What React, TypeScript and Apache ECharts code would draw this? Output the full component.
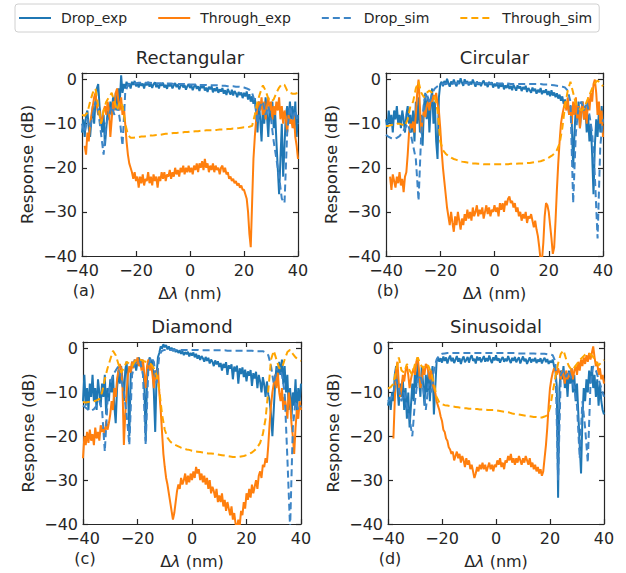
import React, { useEffect, useRef } from 'react';
import * as echarts from 'echarts';

// wavelength grids (nm)
const WL_EXP = Array.from({ length: 161 }, (_, i) => -40 + i * 0.5);
const WL_SIM = Array.from({ length: 81 }, (_, i) => -40 + i);

const SERIES_NAMES = ['Drop_exp', 'Through_exp', 'Drop_sim', 'Through_sim'];
const TITLES = ['Rectangular', 'Circular', 'Diamond', 'Sinusoidal'];
const LETTERS = ['(a)', '(b)', '(c)', '(d)'];
const X_MIN = -40, X_MAX = 40, X_STEP = 20;
const Y_MIN = -40, Y_MAX = 1.5, Y_STEP = 10;

// ---------- (a) Rectangular ----------
const A_DROP_EXP = [
  -12, -9, -13, -8, -7, -11, -13, -9, -6, -10,
  -5, -2, -1, -6, -9, -12, -8, -15, -11, -7,
  -9, -5, -8, -4, -6, -3, -7, -2, -5, 1,
  -3, -1, -2, -0.5, -1.5, -0.8, -2, -0.5, -1.2, -0.3,
  -1.5, -0.8, -1.8, -0.6, -1.4, -0.9, -2, -0.7, -1.3, -0.5,
  -1.6, -0.9, -1.9, -1, -0.6, -1.7, -1.1, -2, -0.8, -1.4,
  -0.7, -1.8, -1.2, -2.1, -0.9, -1.5, -1, -2, -1.3, -0.8,
  -1.7, -1.1, -2.2, -1.4, -0.9, -1.8, -1.2, -2.3, -1.5, -1,
  -1.9, -1.3, -2.4, -1.6, -1.1, -2.1, -1.5, -2.6, -1.4, -1.9,
  -1.2, -2.5, -1.8, -2.8, -1.6, -2.2, -1.5, -2.9, -2, -2.6,
  -1.7, -3, -2.2, -2.7, -1.9, -3.2, -2.4, -3.5, -2.1, -2.8,
  -3.4, -2.3, -3.6, -2.6, -3.1, -4, -2.8, -3.5, -2.9, -4.2,
  -3, -3.8, -2.7, -4.5, -3.3, -5, -3.8, -5.5, -4.2, -7,
  -12, -5, -9, -14, -6, -10, -4, -8, -13, -6,
  -9, -5, -11, -7, -14, -20, -26, -18, -10, -22,
  -15, -8, -6, -10, -5, -9, -6, -11, -5, -13,
  -8,
];
const A_THR_EXP = [
  null, null, -15, -17, -12, -14, -10, -8, -6, -4,
  -3, -6, -8, -7, -10, -9, -7, -6, -8, -5,
  -7, -13, -9, -5, -7, -3, -2, -5, -7, -4,
  -8, -6, -10, -14, -17, -19, -20, -21, -22.5, -21,
  -23, -22, -24.5, -22, -23.5, -21.5, -24, -22.5, -23, -21,
  -23.5, -22, -24, -21.5, -23, -22, -24.5, -22, -23, -21,
  -22.5, -21, -23, -21.5, -22, -20.5, -22.5, -21, -22, -20,
  -21.5, -20.5, -22, -20, -21, -19.5, -21.5, -20, -21, -19.5,
  -21, -20, -21.5, -19.5, -20.5, -19, -21, -19, -20, -18.5,
  -20.5, -18, -20, -19, -21, -19.5, -20.5, -19, -21, -19.5,
  -20.5, -20, -21.5, -20, -19.5, -21, -20, -21.5, -21, -22.5,
  -22, -23, -22.5, -23.5, -23, -24, -23.5, -24.5, -24, -25,
  -25, -26, -27, -30, -35, -38, -28, -18, -13, -9,
  -6, -5, -7, -4, -8, -5, -9, -6, -4, -7,
  -5, -9, -6, -8, -5, -7, -4, -9, -6, -10,
  -7, -9, -12, -8, -10, -9, -11, -8, -13, -15,
  -18,
];
const A_DROP_SIM = [
  -10, -12, -9, -11, -8, -5, -7, -12, -17, -10,
  -8, -6, -8, -5, -9, -15, -3, -1.2, -0.9, -0.8,
  -0.8, -0.7, -0.7, -0.7, -0.7, -0.7, -0.8, -0.8, -0.8, -0.8,
  -0.9, -0.9, -0.9, -0.9, -1, -1, -1, -1, -1, -1.1,
  -1.1, -1.1, -1.1, -1.2, -1.2, -1.2, -1.2, -1.3, -1.3, -1.3,
  -1.3, -1.4, -1.4, -1.4, -1.5, -1.5, -1.5, -1.6, -1.6, -1.7,
  -1.8, -2, -2.3, -3, -5, -10, -6, -5, -8, -6,
  -9, -14, -18, -22, -27, -28, -12, -6, -9, -7,
  -10,
];
const A_THR_SIM = [
  -8, -8.2, -7.5, -5, -3, -2, -6, -10, -7, -5,
  -4, -3, -5, -7, -5, -6, -10, -12.5, -13.2, -13.2,
  -13.1, -13, -12.9, -12.9, -12.8, -12.7, -12.7, -12.6, -12.5, -12.5,
  -12.4, -12.3, -12.3, -12.2, -12.1, -12.1, -12, -12, -11.9, -11.9,
  -11.8, -11.8, -11.7, -11.7, -11.6, -11.6, -11.5, -11.5, -11.5, -11.4,
  -11.4, -11.3, -11.3, -11.3, -11.2, -11.2, -11.1, -11.1, -11, -10.9,
  -10.8, -10.8, -10.7, -10.5, -8, -5, -3, -1.3, -2.5, -4.3,
  -5, -4.5, -3, -1.8, -1, -1.2, -2.5, -3, -3.2, -3.2,
  -3,
];

// ---------- (b) Circular ----------
const B_DROP_EXP = [
  -9, -11, -7, -10, -8, -12, -7, -9, -6, -10,
  -8, -11, -7, -9, -12, -8, -6, -10, -8, -12,
  -7, -14, -5, -10, -4, -12, -8, -15, -6, -3,
  -9, -4, -12, -6, -2, -10, -5, -14, -18, -4,
  -1, -0.5, -1.5, -0.3, -1.2, 0.2, -0.8, -1.6, -0.4, -1.1,
  0, -0.9, -1.5, -0.2, -1, 0.3, -0.7, -1.4, 0.1, -0.9,
  -0.3, -1.3, -0.5, -1.1, 0, -0.8, -1.6, -0.4, -1.2, -0.6,
  -1.5, -0.7, -0.2, -1.3, -0.8, -1.7, -0.5, -1.2, -0.6, -1.8,
  -0.9, -1.5, -0.7, -2, -1, -1.6, -0.8, -2.2, -1.3, -1.9,
  -1, -2.1, -1.4, -2.4, -1.2, -1.8, -2.5, -1.3, -2, -1.5,
  -2.6, -1.7, -2.2, -1.4, -2.8, -1.9, -2.4, -3, -1.8, -2.6,
  -2.1, -3.2, -2.3, -2.9, -1.9, -3.3, -2.5, -3, -2.2, -3.5,
  -2.6, -3.8, -2.4, -3.6, -2.9, -4, -3.1, -4.3, -3.4, -4.8,
  -3.8, -5.5, -4.5, -6.5, -5, -8, -6, -10, -20, -12,
  -6, -9, -5, -11, -7, -5, -9, -6, -12, -8,
  -14, -10, -17, -26, -15, -9, -13, -7, -12, -6,
  -10,
];
const B_THR_EXP = [
  null, null, null, -22, -25, -21.5, -23, -24.5, -22, -23.5,
  -21, -24, -22.5, -25.5, -22, -21, -17, -12, -10, -11,
  -9.5, -12, -8, -3, 0, -6, -12, -9, -7, -8.5,
  -6, -5, -7, -4.5, -5, -3.5, -4.5, -3, -5.5, -7,
  -11, -16, -20, -23, -26, -29, -31, -33, -30, -32.5,
  -34.5, -31, -33, -30, -32, -34, -31.5, -33, -30.5, -32,
  -29.5, -31.5, -30, -32, -29, -31, -30, -28.5, -31, -29.5,
  -30.5, -29, -31.5, -30, -28.5, -30.5, -29, -31, -29.5, -30,
  -28.5, -30, -29, -31, -28, -29.5, -28, -30, -27.5, -28.5,
  -27, -26.5, -28, -27.5, -29, -28, -30, -29, -31, -30,
  -32, -30.5, -31.5, -30, -32.5, -31, -31.5, -30.5, -32, -33.5,
  -32, -34, -35.5, -38, -41, -41, -37, -31, -28, -28.5,
  -30, -33, -36, -39.5, -38, -32, -25, -19, -14, -10,
  -8, -6.5, -5, -7, -4, -8, -6, -10, -5, -8,
  -4, -9, -6, -11, -7, -5, -9, -6, -10, -4,
  -7, -3, -5, -1, 0, -3, -8, -5, -10, -7,
  -13,
];
const B_DROP_SIM = [
  -12.5, -13, -13.3, -13.5, -13.2, -12.8, -12, -11, -10, -12,
  -15, -18, -27.5, -12, -5, -3, -5.5, -3, -2, -1.5,
  -1.1, -1, -0.9, -0.9, -0.8, -0.8, -0.8, -0.8, -0.8, -0.8,
  -0.8, -0.8, -0.8, -0.8, -0.8, -0.8, -0.8, -0.8, -0.9, -0.9,
  -0.9, -0.9, -0.9, -0.9, -0.9, -0.9, -1, -1, -1, -1,
  -1, -1, -1, -1, -1, -1, -1, -1, -1.1, -1.1,
  -1.1, -1.2, -1.3, -1.4, -1.5, -1.6, -1.8, -2.5, -5, -28,
  -12, -6, -5, -7, -5, -8, -12, -22, -36, -15,
  -9,
];
const B_THR_SIM = [
  -10.5, -10.5, -10.3, -10.2, -10, -10, -10.2, -10.5, -9, -6,
  -5, -2, -0.5, -3, -4, -3, -2.5, -3, -4, -7,
  -14, -16, -16.8, -17.3, -17.7, -18, -18.2, -18.4, -18.6, -18.7,
  -18.8, -18.9, -19, -19, -19.1, -19.1, -19.2, -19.2, -19.2, -19.2,
  -19.2, -19.2, -19.2, -19.2, -19.2, -19.2, -19.1, -19.1, -19.1, -19,
  -19, -19, -18.9, -18.9, -18.8, -18.7, -18.6, -18.5, -18.3, -18,
  -17.7, -17.3, -16.8, -16, -14.5, -11, -6, -2.5, -0.5, -3,
  -5.5, -6.5, -7, -6.5, -5, -3.5, -2, -0.8, -0.2, -0.8,
  -1.5,
];

// ---------- (c) Diamond ----------
const C_DROP_EXP = [
  -12, -6, -13, -9, -14, -8, -11, -6, -12, -9,
  -14, -7, -10, -13, -8, -11, -6, -15, -9, -12,
  -7, -10, -6, -13, -17, -9, -5, -8, -4, -7,
  -12, -5, -3, -9, -20, -6, -3, -4, -2.5, -5,
  -3, -2, -4, -2.5, -3.5, -8, -21, -7, -3, -2,
  -4, -2.5, -10, -19, -6, -2, -1, 0.5, 0, 1,
  0.3, 0.8, -0.2, 0.5, -0.4, 0.2, -0.6, 0, -0.8, -0.3,
  -1, -0.4, -1.2, -0.6, -1.5, -0.8, -1.3, -0.7, -1.8, -1,
  -1.6, -0.9, -2, -1.2, -2.3, -1.5, -2.6, -1.7, -2.2, -3,
  -1.9, -2.8, -2.1, -3.4, -2.5, -3, -4, -2.7, -3.6, -2.9,
  -4.2, -3.3, -5, -3.5, -4.4, -3.1, -6, -3.8, -4.6, -3.6,
  -7, -4.1, -5.2, -3.9, -8, -4.5, -5.8, -4.3, -6.5, -4.8,
  -7.5, -5.2, -6.2, -4.9, -8.5, -5.6, -6.8, -5.3, -9, -6,
  -7.5, -10, -6.5, -8.2, -11, -7.5, -10.5, -12, -15, -20,
  -14, -8, -4, -7, -3, -6, -2.5, -8, -4, -10,
  -6, -14, -9, -16, -10, -13, -7, -15, -9, -12,
  -8,
];
const C_THR_EXP = [
  -25, -20, -22, -19, -21.5, -18.5, -21, -19.5, -22, -18,
  -20.5, -19, -21, -17.5, -19, -18, -20, -16.5, -18.5, -17,
  -15, -12, -14, -9, -11, -7, -5, -3.5, -4.5, -9,
  -22, -15, -10, -6, -4, -5.5, -3, -4.5, -2.5, -3.5,
  -2, -4, -3, -5, -2.5, -6, -9, -4, -2.5, -5,
  -3.5, -6, -9, -5, -7, -4.5, -10, -14, -19, -24,
  -27, -29.5, -31, -33, -35, -37, -39, -37.5, -35, -32.5,
  -31, -32, -29.5, -31, -30, -28.5, -31, -29, -30.5, -28.5,
  -30, -28, -29.5, -27, -28.5, -27.5, -30, -28.5, -30.5, -29,
  -31, -29.5, -32, -30, -33, -31.5, -32.5, -34, -32, -35,
  -33.5, -35, -33, -36, -34.5, -37, -35, -36.5, -38, -36,
  -39, -37.5, -40, -41, -39, -40.5, -37, -38, -35, -36.5,
  -33, -34.5, -32, -34, -31, -33, -31.5, -30, -32, -29,
  -28, -29.5, -26.5, -27, -25, -26, -22, -17, -13, -10,
  -8, -6, -9, -5.5, -10, -12, -9, -14, -11, -13,
  -16, -10, -12, -17, -20, -24, -18, -14, -16, -12,
  -14,
];
const C_DROP_SIM = [
  -13, -13.5, -14, -14.2, -13.8, -13, -12, -14, -23.5, -12,
  -8, -6, -5, -4, -7, -10, -15, -22, -6, -3.5,
  -2.5, -3, -6, -22, -4, -2, -3, -8, -1.5, -0.5,
  -0.3, -0.3, -0.3, -0.3, -0.3, -0.3, -0.3, -0.3, -0.3, -0.3,
  -0.3, -0.3, -0.3, -0.4, -0.4, -0.4, -0.4, -0.4, -0.4, -0.4,
  -0.4, -0.4, -0.4, -0.5, -0.5, -0.5, -0.5, -0.5, -0.5, -0.5,
  -0.5, -0.5, -0.5, -0.6, -0.6, -0.6, -0.6, -0.9, -1.5, -4,
  -8, -5, -4, -6, -10, -25, -41, -18, -12, -14,
  -13,
];
const C_THR_SIM = [
  -12.2, -12.3, -12.2, -12, -12, -11.8, -11.5, -10, -7, -4.5,
  -2.5, -0.5, -1.5, -3.5, -5.5, -4.5, -3, -3.5, -4, -3,
  -2.5, -2.5, -2.8, -3, -3.2, -3.6, -4.5, -6, -9.5, -15,
  -18.5, -20.3, -21.2, -21.7, -22, -22.3, -22.6, -22.8, -23, -23.1,
  -23.3, -23.4, -23.5, -23.6, -23.7, -23.8, -23.9, -23.9, -24, -24.1,
  -24.2, -24.3, -24.4, -24.5, -24.6, -24.7, -24.7, -24.7, -24.6, -24.5,
  -24.3, -24, -23.7, -23.2, -22.5, -21.5, -19.5, -16, -9.5, -2.5,
  -0.5, -2.5, -4.5, -4.5, -2.5, -0.8, -0.3, -1.2, -2, -2.5,
  -2.8,
];

// ---------- (d) Sinusoidal ----------
const D_DROP_EXP = [
  -13, -11, -14, -10, -12, -6, -4, -9, -13, -8,
  -11, -7, -14, -9, -16, -10, -18, -13, -8, -12,
  -5, -9, -3, -7, -11, -4, -8, -13, -6, -10,
  -5, -12, -7, -4, -15, -9, -3, -2, -3, -2.2,
  -3.2, -1.8, -2.8, -2, -3.4, -2.3, -1.6, -2.9, -2.1, -3.3,
  -2.5, -1.7, -3, -2.2, -3.5, -2.4, -1.8, -3.1, -2.6, -1.9,
  -3.2, -2.1, -1.5, -2.8, -2.3, -3.4, -1.8, -2.7, -2, -3.1,
  -2.4, -1.7, -3, -2.2, -2.9, -1.6, -2.6, -3.3, -2, -2.7,
  -1.5, -2.8, -2.2, -3.2, -2.4, -1.9, -3, -2.3, -2.9, -1.7,
  -2.6, -3.3, -2.1, -2.8, -1.9, -3.1, -2.5, -2, -3.4, -2.6,
  -1.8, -2.9, -2.3, -3.5, -2.7, -2, -3.2, -2.4, -2.9, -2.1,
  -3.3, -2.5, -3, -2.2, -3.4, -2.6, -2.1, -3.1, -2.4, -3.5,
  -2.8, -3.2, -2.5, -4, -5, -8.5, -34, -9, -5, -7,
  -4, -9, -6, -11, -5, -8, -4.5, -10, -6, -12,
  -8, -15, -22, -28.5, -16, -9, -12, -7, -10, -5,
  -8, -4, -9, -6, -11, -7, -13, -8, -12, -14,
  -15,
];
const D_THR_EXP = [
  null, null, null, null, -20.5, -12, -5, -3, -8, -11,
  -9, -6, -7.5, -5, -4, -6, -9, -7, -5.5, -4.5,
  -6, -3, -2, -5, -9, -7, -4.5, -6, -3.5, -4,
  -5.5, -7, -5, -8, -9, -10, -12, -13, -14, -15.5,
  -16.5, -18.5, -19, -20.5, -21, -22.5, -23, -24, -23.5, -25.5,
  -24.5, -23.5, -25, -24, -26, -24.5, -25.5, -27, -25, -26.5,
  -25.5, -27.5, -26.5, -28, -29.5, -28.5, -27, -28, -26.5, -27.5,
  -26, -27.5, -26.5, -28, -27, -26, -27.5, -26.5, -28, -26.5,
  -27, -25.5, -26.5, -25, -27, -26, -27.5, -25.5, -26, -24.5,
  -25.5, -24, -26, -25, -26.5, -25, -26, -24.5, -25.5, -26.5,
  -25, -26, -24.5, -25.5, -26.5, -25, -27, -26, -27.5, -26.5,
  -28, -27, -28.5, -27.5, -29, -28, -25, -22, -18, -13,
  -9, -7, -5.5, -4.5, -5, -6, -4.5, -5.5, -7, -5,
  -6, -8, -5, -7, -5.5, -6.5, -4.5, -7, -5, -4,
  -6, -3, -5, -2.5, -4, -2, -3.5, -1.5, -3, -1,
  -2.5, -1, 0.5, -2, -4, -3, -6, -4.5, -7, -6,
  -8,
];
const D_DROP_SIM = [
  -12, -11.5, -10, -7, -9, -12, -10, -13, -16, -20,
  -12, -7, -6, -9, -14, -8, -10, -5, -2.5, -1.5,
  -1.2, -1.1, -1, -1, -1, -1, -1, -1, -1, -1,
  -1, -1, -1, -1, -1, -1, -1, -1, -1, -1,
  -1, -1, -1, -1, -1, -1, -1, -1, -1.1, -1.1,
  -1.1, -1.1, -1.1, -1.1, -1.1, -1.2, -1.2, -1.2, -1.2, -1.3,
  -1.3, -1.5, -3, -30, -6, -5, -6.5, -5, -7, -9,
  -13, -25, -12, -18, -26, -8, -4, -5, -7, -9,
  -11,
];
const D_THR_SIM = [
  -9.1, -8.8, -8, -5, -2, -5, -5.5, -3.5, -5, -6,
  -3.5, -2, -3.5, -4.5, -3.5, -4, -5.5, -8, -11, -12.3,
  -12.7, -12.9, -13, -13.1, -13.2, -13.3, -13.4, -13.5, -13.6, -13.6,
  -13.7, -13.7, -13.8, -13.8, -13.9, -13.9, -13.9, -14, -14, -14,
  -14.1, -14.2, -14.3, -14.4, -14.5, -14.6, -14.8, -14.9, -15, -15.1,
  -15.2, -15.3, -15.4, -15.5, -15.6, -15.6, -15.7, -15.7, -15.5, -15.2,
  -13.5, -10, -6.5, -3.4, -1.2, -0.4, -2.5, -4, -4.9, -4.3,
  -3.5, -2.6, -2, -1.4, -1.1, -1.3, -1.9, -3, -3.8, -3.2,
  -2.6,
];

const PANEL_DATA = [
  [A_DROP_EXP, A_THR_EXP, A_DROP_SIM, A_THR_SIM],
  [B_DROP_EXP, B_THR_EXP, B_DROP_SIM, B_THR_SIM],
  [C_DROP_EXP, C_THR_EXP, C_DROP_SIM, C_THR_SIM],
  [D_DROP_EXP, D_THR_EXP, D_DROP_SIM, D_THR_SIM],
];

// layout / style
const GRIDS = [
  { left: 82, top: 73, width: 216, height: 183 },
  { left: 386, top: 73, width: 217, height: 183 },
  { left: 83, top: 342, width: 218, height: 182 },
  { left: 388, top: 342, width: 216, height: 182 },
];
const FONT = "'DejaVu Sans', 'Noto Sans', sans-serif";
const INK = '#262626';
const SERIES_STYLE = [
  { color: '#1f77b4', type: 'solid' },
  { color: '#ff7f0e', type: 'solid' },
  { color: '#3d85c6', type: [7, 4] },
  { color: '#ffa500', type: [7, 4] },
];

const fmtTick = (step: number) => (v: number) => {
  if (Math.abs(v / step - Math.round(v / step)) > 1e-6) return '';
  return v < 0 ? '\u2212' + String(-v) : String(v);
};

function xAxisCfg(gi: number, pos: 'bottom' | 'top') {
  return {
    type: 'value', gridIndex: gi, position: pos, min: X_MIN, max: X_MAX, interval: X_STEP,
    axisLine: { show: true, onZero: false, lineStyle: { color: INK, width: 1.2 } },
    axisTick: { show: true, inside: true, length: 5, lineStyle: { color: INK, width: 1.2 } },
    axisLabel: { show: pos === 'bottom', fontSize: 16, lineHeight: 16, color: INK, margin: 6, fontFamily: FONT, formatter: fmtTick(X_STEP) },
    splitLine: { show: false },
  };
}
function yAxisCfg(gi: number, pos: 'left' | 'right') {
  return {
    type: 'value', gridIndex: gi, position: pos, min: Y_MIN, max: Y_MAX, interval: Y_STEP,
    axisLine: { show: true, onZero: false, lineStyle: { color: INK, width: 1.2 } },
    axisTick: { show: true, inside: true, length: 5, lineStyle: { color: INK, width: 1.2 } },
    axisLabel: { show: pos === 'left', fontSize: 16, lineHeight: 11, color: INK, margin: 5, fontFamily: FONT, formatter: fmtTick(Y_STEP) },
    splitLine: { show: false },
  };
}

const pairs = (xs: number[], ys: (number | null)[]) =>
  xs.map((x, i) => [x, ys[i] === null || ys[i] === undefined ? '-' : ys[i]]);

function buildOption() {
  const xAxis: any[] = [];
  const yAxis: any[] = [];
  const series: any[] = [];
  const graphic: any[] = [];
  GRIDS.forEach((g, gi) => {
    xAxis.push(xAxisCfg(gi, 'bottom'), xAxisCfg(gi, 'top'));
    yAxis.push(yAxisCfg(gi, 'left'), yAxisCfg(gi, 'right'));
    PANEL_DATA[gi].forEach((ys, si) => {
      const xs = si < 2 ? WL_EXP : WL_SIM;
      const st = SERIES_STYLE[si];
      series.push({
        name: SERIES_NAMES[si], type: 'line', xAxisIndex: 2 * gi, yAxisIndex: 2 * gi,
        data: pairs(xs, ys as any), symbol: 'none', showSymbol: false, silent: true,
        connectNulls: false, clip: true, z: 2 + si,
        lineStyle: { color: st.color, width: 2, type: st.type as any },
        itemStyle: { color: st.color },
      });
    });
    const cx = g.left + g.width / 2;
    graphic.push(
      { type: 'text', x: cx, y: g.top - 16, style: { text: TITLES[gi], fontSize: 18, fontFamily: FONT, fill: INK, align: 'center', verticalAlign: 'middle' } },
      { type: 'text', x: g.left - 55, y: g.top + g.height / 2, rotation: Math.PI / 2, style: { text: 'Response (dB)', fontSize: 16.5, fontFamily: FONT, fill: INK, align: 'center', verticalAlign: 'middle' } },
      { type: 'text', x: cx, y: g.top + g.height + 37, style: { text: '{n|\u0394}{i|\u03bb}{n| (nm)}', fontSize: 16, fontFamily: FONT, fill: INK, align: 'center', verticalAlign: 'middle',
          rich: { n: { fontSize: 16, fontFamily: FONT, fill: INK }, i: { fontSize: 16, fontFamily: FONT, fontStyle: 'italic', fill: INK } } } },
      { type: 'text', x: g.left + 2, y: g.top + g.height + 34, style: { text: LETTERS[gi], fontSize: 16, fontFamily: FONT, fill: INK, align: 'center', verticalAlign: 'middle' } },
    );
  });
  return {
    animation: false,
    backgroundColor: '#ffffff',
    textStyle: { fontFamily: FONT },
    grid: GRIDS.map((g) => ({ left: g.left, top: g.top, width: g.width, height: g.height, containLabel: false })),
    xAxis, yAxis, series, graphic,
    legend: {
      data: SERIES_NAMES, left: 15, top: 4, orient: 'horizontal',
      itemWidth: 32, itemHeight: 14, itemGap: 30,
      padding: [7, 7, 7, 3], borderColor: '#d0d0d0', borderWidth: 1, borderRadius: 3,
      backgroundColor: '#ffffff', selectedMode: false,
      itemStyle: { color: 'rgba(0,0,0,0)', borderColor: 'rgba(0,0,0,0)', borderWidth: 0, opacity: 0 },
      textStyle: { fontSize: 14, color: INK, fontFamily: FONT, padding: [0, 0, 0, 5] },
    },
  };
}

export default function App() {
  const ref = useRef<HTMLDivElement>(null);
  useEffect(() => {
    if (!ref.current) return;
    const chart = echarts.init(ref.current, undefined, { renderer: 'svg' });
    chart.setOption(buildOption() as any);
    return () => chart.dispose();
  }, []);
  return <div ref={ref} style={{ position: 'absolute', left: 0, top: 0, width: 626, height: 573 }} />;
}
